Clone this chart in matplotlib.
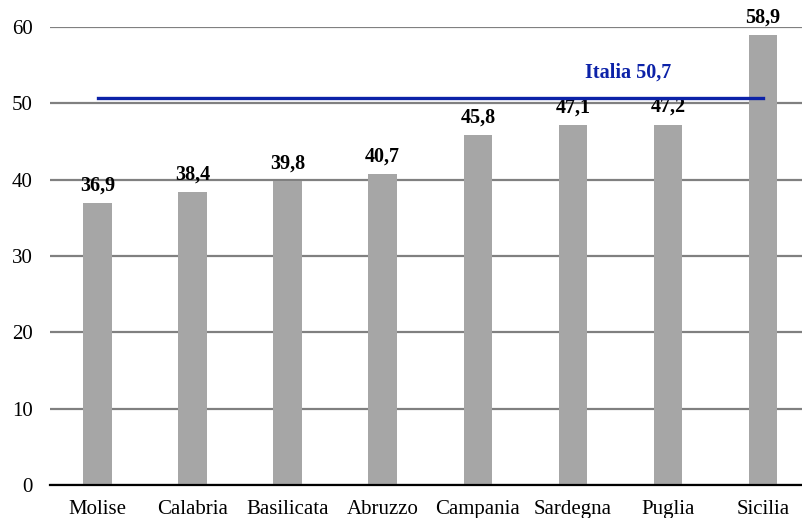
import matplotlib.pyplot as plt

regions = ["Molise", "Calabria", "Basilicata", "Abruzzo", "Campania", "Sardegna", "Puglia", "Sicilia"]
values = [36.9, 38.4, 39.8, 40.7, 45.8, 47.1, 47.2, 58.9]
italia = 50.7

plt.rcParams["font.family"] = ["Liberation Serif", "DejaVu Serif"]

fig = plt.figure(figsize=(8.02, 5.18), dpi=100)
ax = fig.add_axes([50 / 802, 33 / 518, 1 - 50 / 802, (485 - 27) / 518])

x = list(range(len(regions)))
ax.bar(x, values, width=0.3, color="#a6a6a6", zorder=2)
for xi, v in zip(x, values):
    ax.text(xi, v + 1.0, f"{v:.1f}".replace(".", ","), ha="center", va="bottom",
            fontsize=14.5, fontweight="bold", clip_on=False)

ax.plot([x[0], x[-1]], [italia, italia], color="#0c22a8", lw=2.4, zorder=3)
ax.text(5.58, 54.0, "Italia " + f"{italia:.1f}".replace(".", ","), color="#0c22a8",
        ha="center", va="center", fontsize=14.5, fontweight="bold")

ax.set_xlim(-0.5, 7.41)
ax.set_ylim(0, 60)
ax.set_yticks(range(0, 61, 10))
ax.set_xticks(x)
ax.set_xticklabels(regions)
ax.yaxis.grid(True, color="#808080", lw=1.6, zorder=0)
ax.set_axisbelow(True)
for s in ["top", "right", "left"]:
    ax.spines[s].set_visible(False)
ax.spines["bottom"].set_color("black")
ax.spines["bottom"].set_linewidth(1.6)
ax.spines["bottom"].set_zorder(4)
ax.tick_params(length=0, labelsize=15)
ax.tick_params(axis="y", pad=12.5)
ax.tick_params(axis="x", pad=11)

fig.savefig("out.png", dpi=100)
